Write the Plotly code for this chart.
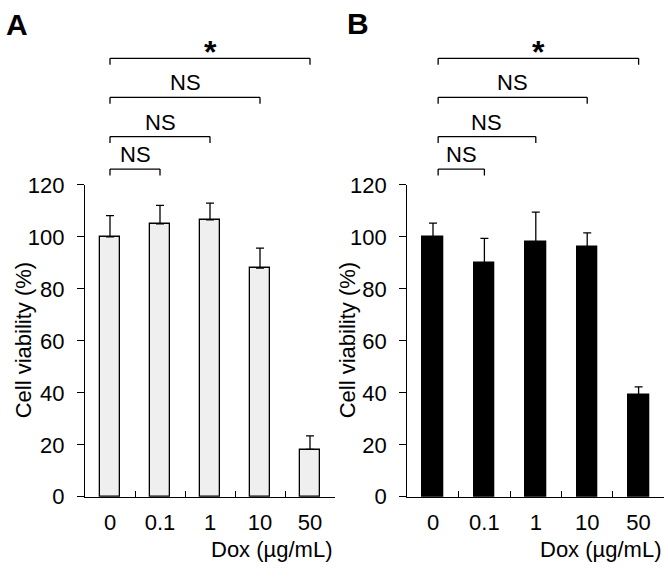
import plotly.graph_objects as go

# ---------------- data ----------------
doses = ["0", "0.1", "1", "10", "50"]

viability_A = [100.0, 105.0, 106.5, 88.0, 18.2]
error_A = [8.2, 7.1, 6.5, 7.7, 5.2]

viability_B = [100.0, 90.0, 98.0, 96.2, 39.3]
error_B = [5.3, 9.4, 11.5, 5.3, 3.0]

# significance brackets: (from category index, to category index, label)
brackets = [(0, 4, "*"), (0, 3, "NS"), (0, 2, "NS"), (0, 1, "NS")]
bracket_heights = [168.7, 153.7, 138.6, 126.1]  # in y data units (%)

y_ticks = [0, 20, 40, 60, 80, 100, 120]
y_max = 120

# ---------------- layout helpers ----------------
W, H = 668, 578
FONT = "Liberation Sans, Arial, sans-serif"
y_top_px, y_bot_px = 180.7, 506.7

fig = go.Figure()

panels = [
    dict(x="x", y="y", vals=viability_A, err=error_A, fill="#efefef",
         dom=(85, 335), label="A", label_xy=(17, 13), ytitle_x=23.5, left_off=0.0),
    dict(x="x2", y="y2", vals=viability_B, err=error_B, fill="#000000",
         dom=(407.3, 664.3), label="B", label_xy=(357.5, 12), ytitle_x=347.5, left_off=0.1),
]

shapes = []
annotations = []

for i, p in enumerate(panels):
    fig.add_trace(go.Bar(
        x=doses, y=p["vals"], xaxis=p["x"], yaxis=p["y"],
        width=0.4,
        marker=dict(color=p["fill"], line=dict(color="#000000", width=1.3)),
        error_y=dict(type="data", array=p["err"], arrayminus=[0] * len(p["err"]),
                     symmetric=False, color="#000000", thickness=1.3, width=4),
        showlegend=False, hoverinfo="skip",
    ))
    suffix = "" if i == 0 else "2"
    xa = dict(
        domain=[p["dom"][0] / W, p["dom"][1] / W],
        type="category", range=[-0.5, 4.5],
        showline=True, linecolor="#000000", linewidth=1.3,
        ticks="inside", tickson="boundaries", ticklen=6, tickwidth=1.3, tickcolor="#000000",
        tickfont=dict(family=FONT, size=22, color="#000000"),
        ticklabelstandoff=6,
        showgrid=False, zeroline=False, anchor=p["y"],
    )
    ya = dict(
        domain=[(H - y_bot_px) / H, (H - y_top_px) / H],
        range=[0, y_max], tickvals=y_ticks,
        showline=True, linecolor="#000000", linewidth=1.3,
        ticks="outside", ticklen=7, tickwidth=1.3, tickcolor="#000000",
        tickfont=dict(family=FONT, size=22, color="#000000"),
        ticklabelstandoff=8,
        showgrid=False, zeroline=False, anchor=p["x"],
    )
    fig.update_layout(**{"xaxis" + suffix: xa, "yaxis" + suffix: ya})

    yd = p["y"] + " domain"
    drop = 2.5 / y_max
    for (a, b, lab), h in zip(brackets, bracket_heights):
        yy = h / y_max
        xa0 = a + p["left_off"]
        line = dict(color="#000000", width=1.3)
        shapes.append(dict(type="line", xref=p["x"], yref=yd, x0=xa0, x1=b, y0=yy, y1=yy, line=line))
        shapes.append(dict(type="line", xref=p["x"], yref=yd, x0=xa0, x1=xa0, y0=yy, y1=yy - drop, line=line))
        shapes.append(dict(type="line", xref=p["x"], yref=yd, x0=b, x1=b, y0=yy, y1=yy - drop, line=line))
        if lab == "*":
            annotations.append(dict(text="<b>*</b>", xref=p["x"], yref=yd, x=(xa0 + b) / 2, y=yy,
                                    xanchor="center", yanchor="bottom", showarrow=False, yshift=-14,
                                    font=dict(family=FONT, size=32, color="#000000")))
        else:
            annotations.append(dict(text=lab, xref=p["x"], yref=yd, x=(xa0 + b) / 2, y=yy,
                                    xanchor="center", yanchor="bottom", showarrow=False, yshift=0,
                                    font=dict(family=FONT, size=22, color="#000000")))

    annotations.append(dict(text="Cell viability (%)", textangle=-90, xref="paper", yref="paper",
                            x=p["ytitle_x"] / W, y=(H - (y_top_px + y_bot_px) / 2) / H,
                            xanchor="center", yanchor="middle", showarrow=False,
                            font=dict(family=FONT, size=22, color="#000000")))
    annotations.append(dict(text="Dox (µg/mL)", xref=p["x"] + " domain", yref="paper",
                            x=1, y=(H - 561.7) / H, xanchor="right", yanchor="middle",
                            xshift=-1, showarrow=False,
                            font=dict(family=FONT, size=22, color="#000000")))
    annotations.append(dict(text="<b>" + p["label"] + "</b>", xref="paper", yref="paper",
                            x=p["label_xy"][0] / W, y=(H - p["label_xy"][1]) / H,
                            xanchor="center", yanchor="middle", showarrow=False,
                            font=dict(family=FONT, size=30, color="#000000")))

fig.update_layout(
    width=W, height=H,
    margin=dict(l=0, r=0, t=0, b=0),
    paper_bgcolor="#ffffff", plot_bgcolor="#ffffff",
    shapes=shapes, annotations=annotations,
    bargap=0,
)

fig.write_html("out.html", config={"displayModeBar": False},
               post_script="document.body.style.margin='0px';document.body.style.overflow='hidden';")
